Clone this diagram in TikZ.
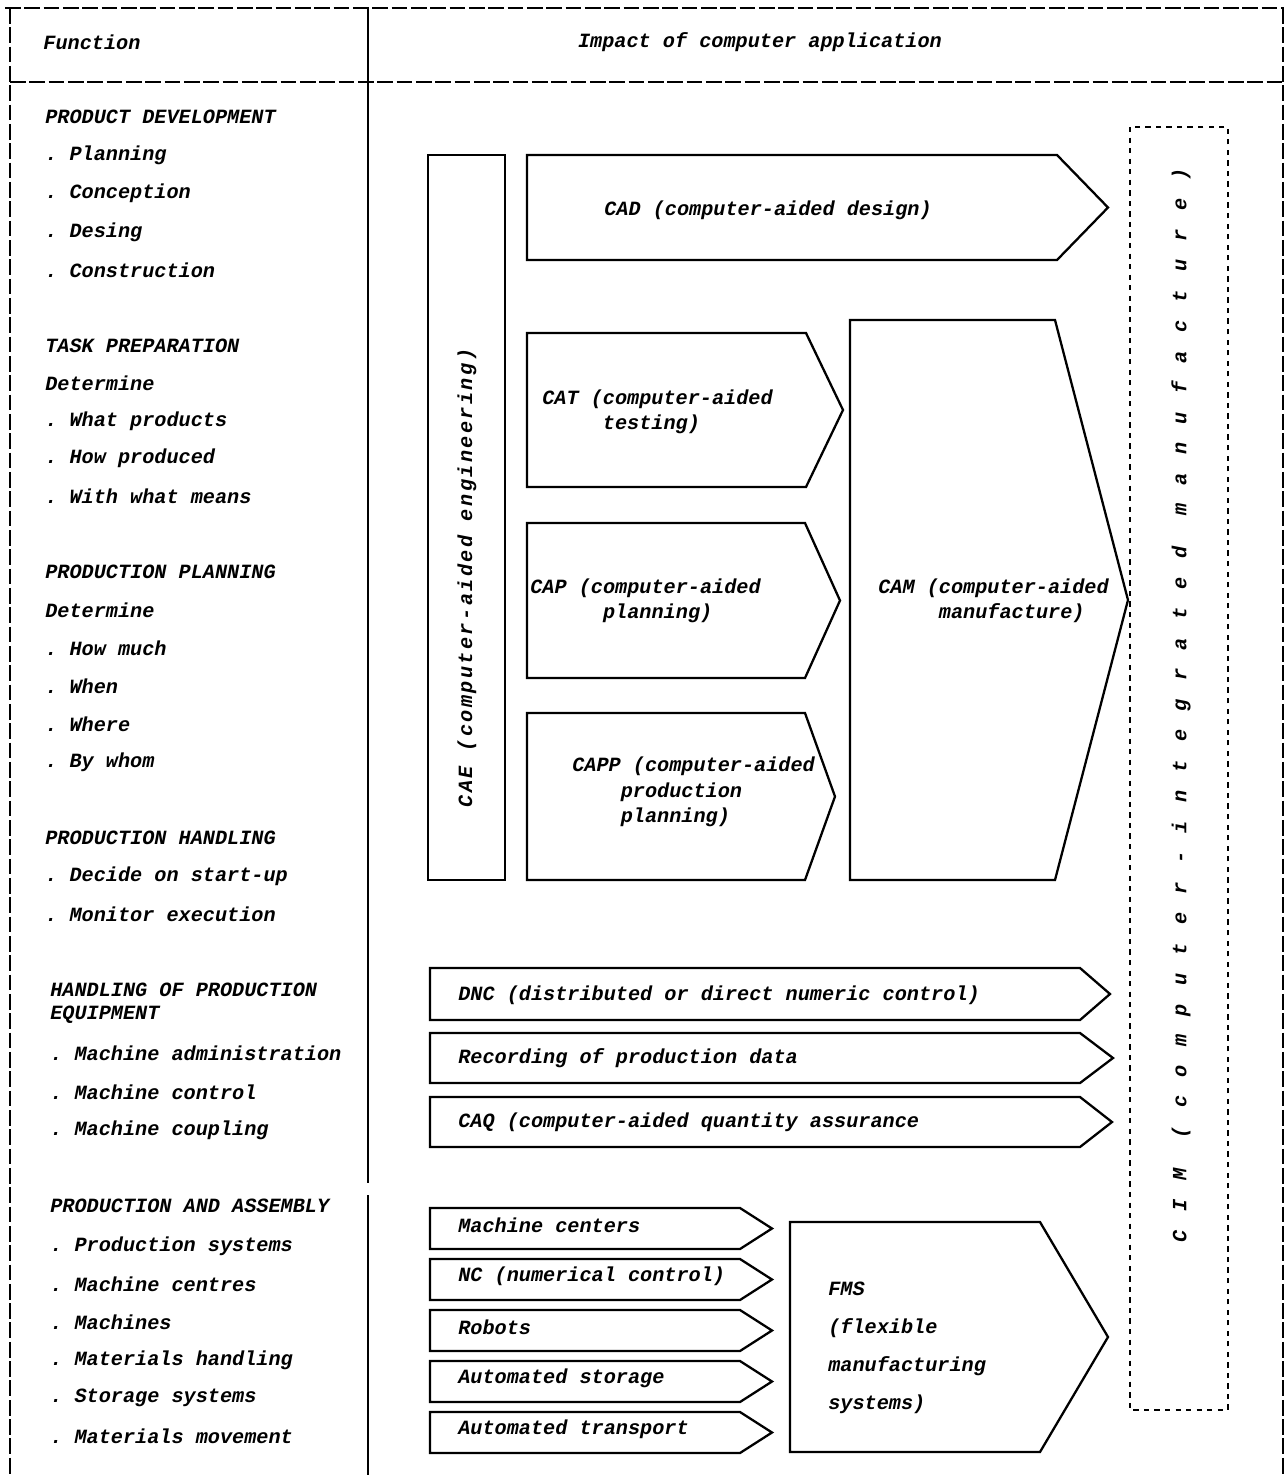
\documentclass[tikz,border=0pt]{standalone}
\usepackage{fontspec}
\setmonofont{Liberation Mono}
\tikzset{
	tw/.style={font=\fontsize{11.5}{14}\selectfont\ttfamily\bfseries\itshape, inner sep=0pt},
	boxline/.style={line width=1.3pt, line join=miter},
	frameline/.style={line width=1.2pt},
	framedash/.style={line width=1.2pt, dash pattern=on 9pt off 2pt}
}
% pentagon box: left, top, corner, bottom, tip
\newcommand{\pentbox}[5]{\draw[boxline] (#1,#2) -- (#3,#2) -- (#5,{(#2+#4)/2}) -- (#3,#4) -- (#1,#4) -- cycle;}
\begin{document}
\begin{tikzpicture}[x=0.2mm, y=-0.2mm]
				\useasboundingbox (0,0) rectangle (1286,1475);
				
				% frame of the table
				\draw[framedash] (5,8) -- (1284,8);
				\draw[framedash] (10,82) -- (1284,82);
				\draw[framedash] (10,8) -- (10,1475);
				\draw[framedash] (1283,8) -- (1283,1475);
				\draw[frameline] (368,8) -- (368,1183);
				\draw[frameline] (368,1195) -- (368,1475);
				
				\node[tw] (hfun) at (92,42) {Function};
				\node[tw] (himp) at (760,42) {Impact of computer application};
				
				% left column
				\foreach \y/\txt [count=\i] in {117/PRODUCT DEVELOPMENT, 155/. Planning, 193/. Conception,
					232/. Desing, 270/. Construction, 346/TASK PREPARATION, 383/Determine, 421/. What products,
					458/. How produced, 496/. With what means, 572/PRODUCTION PLANNING, 610/Determine,
					648/. How much, 686/. When, 724/. Where, 762/. By whom, 838/PRODUCTION HANDLING,
					876/. Decide on start-up, 914/. Monitor execution}
				\node[tw, anchor=west] (fa\i) at (45,\y) {\txt};
				\foreach \y/\txt [count=\i] in {990/HANDLING OF PRODUCTION, 1015/EQUIPMENT,
					1053/. Machine administration, 1092/. Machine control, 1130/. Machine coupling,
					1206/PRODUCTION AND ASSEMBLY, 1246/. Production systems, 1284/. Machine centres,
					1322/. Machines, 1360/. Materials handling, 1398/. Storage systems, 1436/. Materials movement}
				\node[tw, anchor=west] (fb\i) at (50,\y) {\txt};
				
				% engineering block
				\draw[boxline] (428,155) rectangle (505,880);
				\node[tw, rotate=90] (cae) at (467,578) {\addfontfeature{LetterSpace=12}CAE (computer-aided engineering)};
				
				\pentbox{527}{155}{1057}{260}{1108}
				\node[tw] (cad) at (768,210) {CAD (computer-aided design)};
				
				\pentbox{527}{333}{806}{487}{843}
				\node[tw, anchor=west, align=left] (cat) at (542,412) {CAT (computer-aided\\\hphantom{CAT (}testing)};
				
				\pentbox{527}{523}{805}{678}{840}
				\node[tw, anchor=west, align=left] (cap) at (530,601) {CAP (computer-aided\\\hphantom{CAP (c}planning)};
				
				\pentbox{527}{713}{805}{880}{835}
				\node[tw, anchor=west, align=left, font=\fontsize{11.5}{14.5}\selectfont\ttfamily\bfseries\itshape] (capp) at (572,792)
					{CAPP (computer-aided\\\hphantom{CAPP}production\\\hphantom{CAPP}planning)};
				
				\pentbox{850}{320}{1055}{880}{1128}
				\node[tw, anchor=west, align=left] (cam) at (878,601) {CAM (computer-aided\\\hphantom{CAM (}manufacture)};
				
				% CIM frame
				\draw[boxline, dashed] (1130,127) rectangle (1228,1410);
				\node[tw, rotate=90] (cim) at (1181,705) {\addfontfeature{LetterSpace=91}CIM (computer-integrated manufacture)};
				
				% control and data
				\pentbox{430}{968}{1080}{1020}{1110}
				\node[tw, anchor=west] (dnc) at (458,995) {DNC (distributed or direct numeric control)};
				\pentbox{430}{1033}{1080}{1083}{1113}
				\node[tw, anchor=west] (rec) at (458,1058) {Recording of production data};
				\pentbox{430}{1097}{1080}{1147}{1112}
				\node[tw, anchor=west] (caq) at (458,1122) {CAQ (computer-aided quantity assurance};
				
				% flexible manufacturing
				\foreach \y/\txt [count=\i] in {1208/Machine centers, 1259/NC (numerical control), 1310/Robots,
					1361/Automated storage, 1412/Automated transport}
				{\pentbox{430}{\y}{740}{\y+41}{772}
					\node[tw, anchor=west] (fm\i) at (458,\y+17) {\txt};}
				
				\pentbox{790}{1222}{1040}{1452}{1108}
				\node[tw, anchor=west, align=left, font=\fontsize{11.5}{21.6}\selectfont\ttfamily\bfseries\itshape] (fms) at (828,1348)
					{FMS\\(flexible\\manufacturing\\systems)};
			\end{tikzpicture}
\end{document}
